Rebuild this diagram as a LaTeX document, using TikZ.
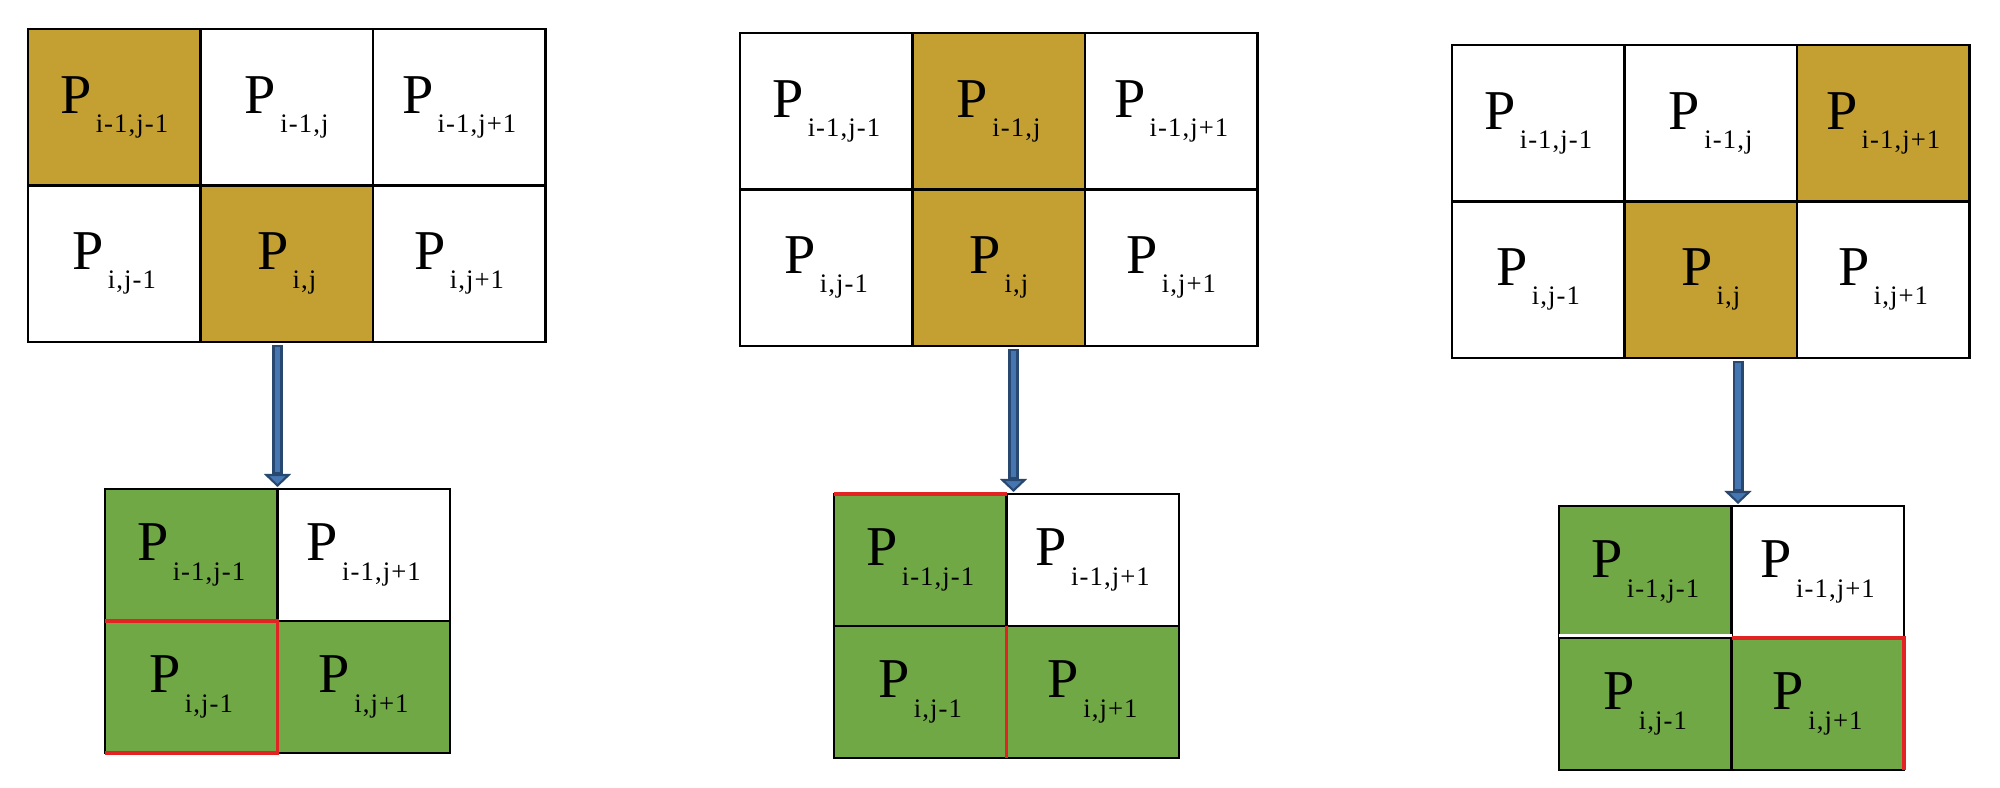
\documentclass[tikz,border=0pt]{standalone}
\usepackage{fontspec}
\setmainfont{Liberation Serif}
\newfontfamily\subfont{Liberation Serif}[LetterSpace=4]
\usetikzlibrary{arrows.meta, positioning}

\definecolor{gold}{RGB}{196,160,50}
\definecolor{leaf}{RGB}{112,168,70}
\definecolor{arrowfill}{RGB}{70,118,178}
\definecolor{arrowedge}{RGB}{40,72,112}
\definecolor{edgered}{RGB}{225,35,35}

% P with a lowered, spaced-out index
\newcommand{\Pcell}[1]{P\hspace{1.2pt}\raisebox{-5.5pt}{\subfont\fontsize{7.6}{8}\selectfont #1}}

\begin{document}
\begin{tikzpicture}[
    x=0.1mm, y=-0.1mm,
    font=\fontsize{16}{18}\selectfont,
    cell/.style     ={draw, line width=0.8pt, inner sep=0pt, outer sep=0pt,
                      minimum width=17.25mm, minimum height=15.65mm, fill=white},
    hot/.style      ={cell, fill=gold},
    small/.style    ={cell, minimum height=13.2mm},
    done/.style     ={small, fill=leaf},
    redline/.style  ={edgered, line width=0.9pt},
    bigarrow/.style ={arrowedge, line width=1.1mm, shorten <=0.3mm, shorten >=0.2mm,
                      -{Triangle[length=1.3mm, width=2.7mm, line width=0.6pt, fill=arrowfill]}},
    arrowcore/.style={arrowfill, line width=0.55mm, shorten <=0.5mm, shorten >=1.7mm}
]
\useasboundingbox (0,0) rectangle (2000,788);

% Left: top grid -> reduced grid
\node[hot, anchor=north west] (t1a) at (28,29) {\Pcell{i-1,j-1}};
\node[cell] (t1b) [right=0pt of t1a] {\Pcell{i-1,j}};
\node[cell] (t1c) [right=0pt of t1b] {\Pcell{i-1,j+1}};
\node[cell] (t1d) [below=0pt of t1a] {\Pcell{i,j-1}};
\node[hot]  (t1e) [below=0pt of t1b] {\Pcell{i,j}};
\node[cell] (t1f) [below=0pt of t1c] {\Pcell{i,j+1}};

\node[done, anchor=north west] (b1a) at (105,489) {\Pcell{i-1,j-1}};
\node[small] (b1b) [right=0pt of b1a] {\Pcell{i-1,j+1}};
\node[done]  (b1c) [below=0pt of b1a] {\Pcell{i,j-1}};
\node[done]  (b1d) [below=0pt of b1b] {\Pcell{i,j+1}};

\draw[redline] (b1c.north west) -- (b1c.north east) -- (b1c.south east) -- (b1c.south west);

% Middle
\node[cell, anchor=north west] (t2a) at (740,33) {\Pcell{i-1,j-1}};
\node[hot]  (t2b) [right=0pt of t2a] {\Pcell{i-1,j}};
\node[cell] (t2c) [right=0pt of t2b] {\Pcell{i-1,j+1}};
\node[cell] (t2d) [below=0pt of t2a] {\Pcell{i,j-1}};
\node[hot]  (t2e) [below=0pt of t2b] {\Pcell{i,j}};
\node[cell] (t2f) [below=0pt of t2c] {\Pcell{i,j+1}};

\node[done, anchor=north west] (b2a) at (834,494) {\Pcell{i-1,j-1}};
\node[small] (b2b) [right=0pt of b2a] {\Pcell{i-1,j+1}};
\node[done]  (b2c) [below=0pt of b2a] {\Pcell{i,j-1}};
\node[done]  (b2d) [below=0pt of b2b] {\Pcell{i,j+1}};

\draw[redline] (b2a.north west) -- (b2a.north east);
\draw[redline] (b2c.north east) -- (b2c.south east);

% Right
\node[cell, anchor=north west] (t3a) at (1452,45) {\Pcell{i-1,j-1}};
\node[cell] (t3b) [right=0pt of t3a] {\Pcell{i-1,j}};
\node[hot]  (t3c) [right=0pt of t3b] {\Pcell{i-1,j+1}};
\node[cell] (t3d) [below=0pt of t3a] {\Pcell{i,j-1}};
\node[hot]  (t3e) [below=0pt of t3b] {\Pcell{i,j}};
\node[cell] (t3f) [below=0pt of t3c] {\Pcell{i,j+1}};

\node[done, anchor=north west] (b3a) at (1559,506) {\Pcell{i-1,j-1}};
\node[small] (b3b) [right=0pt of b3a] {\Pcell{i-1,j+1}};
\node[done]  (b3c) [below=0pt of b3a] {\Pcell{i,j-1}};
\node[done]  (b3d) [below=0pt of b3b] {\Pcell{i,j+1}};

\draw[white, line width=1pt] ([yshift=0.25mm]b3a.south west) -- ([yshift=0.25mm]b3a.south east);
\draw[redline] (b3d.north west) -- (b3d.north east) -- (b3d.south east);

% --- Arrows ---
\coordinate (a1) at (b1a.north east);
\coordinate (a2) at ([xshift=0.7mm]b2a.north east);
\coordinate (a3) at ([xshift=0.65mm]b3a.north east);

\draw[bigarrow]  (t1e.south -| a1) -- (a1);
\draw[arrowcore] (t1e.south -| a1) -- (a1);
\draw[bigarrow]  (t2e.south -| a2) -- (a2);
\draw[arrowcore] (t2e.south -| a2) -- (a2);
\draw[bigarrow]  (t3e.south -| a3) -- (a3);
\draw[arrowcore] (t3e.south -| a3) -- (a3);

\end{tikzpicture}
\end{document}
